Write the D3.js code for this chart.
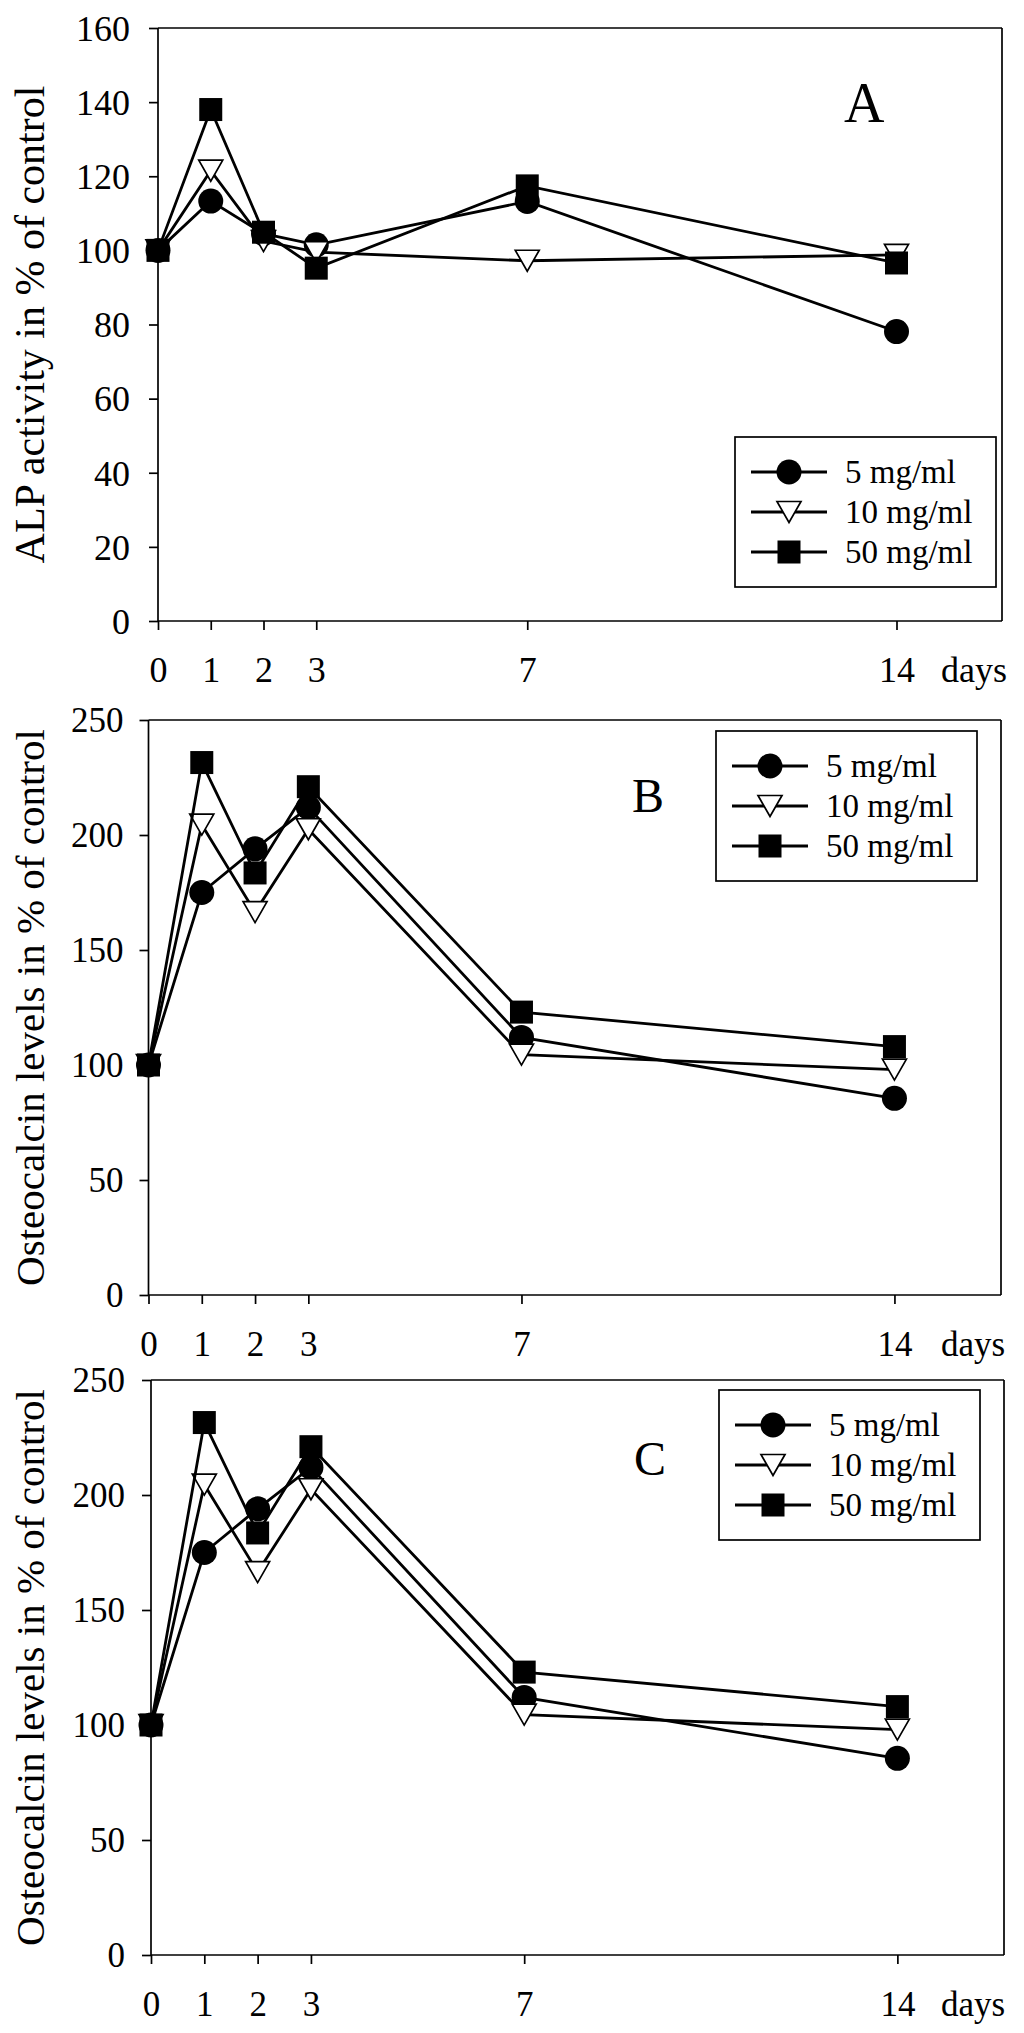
<!DOCTYPE html>
<html>
<head>
<meta charset="utf-8">
<script src="https://cdn.jsdelivr.net/npm/d3@7"></script>
<style>
  body { margin: 0; background: #fff; }
  svg text { font-family: "Liberation Serif", "Times New Roman", serif !important; fill: #000; }
</style>
</head>
<body>
<div id="chart"></div>
<script>
// data
var days = [0, 1, 2, 3, 7, 14];
var dayTicks = [0, 1, 2, 3, 7, 14];
var seriesNames = ["5 mg/ml", "10 mg/ml", "50 mg/ml"];

var alp5  = [100, 113.3, 104.5, 101.5, 113.2, 78.1];
var alp10 = [100, 121.5, 102.5, 99.5, 97.2, 98.8];
var alp50 = [100, 138, 104.9, 95.2, 117.4, 96.6];

var osc5  = [100, 175, 194, 212, 112, 85.5];
var osc10 = [100, 204.5, 166.5, 202.5, 104.5, 98];
var osc50 = [100, 231.5, 183.5, 221, 123, 108];

var alpTicks = [0, 20, 40, 60, 80, 100, 120, 140, 160];
var oscTicks = [0, 50, 100, 150, 200, 250];

// page
var width = 1024, height = 2033;
var serif = '"Liberation Serif", "Times New Roman", serif';
var svg = d3.select("#chart")
            .append("svg")
            .attr("width", width)
            .attr("height", height)
            .style("font-family", serif);

svg.append("rect").attr("width", width).attr("height", height).attr("fill", "#fff");

// one entry per panel (layout only)
var panels = [
  { letter: "A", title: "ALP activity in % of control", values: [alp5, alp10, alp50],
    yTicks: alpTicks, yMax: 160,
    left: 158, right: 1002, top: 28, bottom: 621, tickFont: 36, titleFont: 42, labelPad: 19,
    letterX: 844, letterY: 122, letterFont: 56,
    legX: 735, legY: 437 },
  { letter: "B", title: "Osteocalcin levels in % of control", values: [osc5, osc10, osc50],
    yTicks: oscTicks, yMax: 250,
    left: 148.5, right: 1001, top: 720, bottom: 1295, tickFont: 35, titleFont: 41, labelPad: 16,
    letterX: 632, letterY: 812, letterFont: 48,
    legX: 716, legY: 731 },
  // panel C repeats the same osteocalcin values
  { letter: "C", title: "Osteocalcin levels in % of control", values: [osc5, osc10, osc50],
    yTicks: oscTicks, yMax: 250,
    left: 151, right: 1004, top: 1380, bottom: 1955, tickFont: 35, titleFont: 41, labelPad: 17,
    letterX: 634, letterY: 1475, letterFont: 48,
    legX: 719, legY: 1390 }
];

var lineW = 2.8;
var axisW = 1.7;

// marker drawing: 0 circle, 1 open down triangle, 2 square
function drawMarker(g, type, x, y) {
  if (type === 0) {
    g.append("circle").attr("cx", x).attr("cy", y).attr("r", 12.5).attr("fill", "#000");
  } else if (type === 1) {
    var w = 24, h = 21;
    g.append("path")
     .attr("d", "M" + (x - w/2) + "," + (y - h/2) + "L" + (x + w/2) + "," + (y - h/2) + "L" + x + "," + (y + h/2) + "Z")
     .attr("fill", "#fff").attr("stroke", "#000").attr("stroke-width", 1.7);
  } else {
    g.append("rect").attr("x", x - 11.5).attr("y", y - 11.5).attr("width", 23).attr("height", 23).attr("fill", "#000");
  }
}

panels.forEach(function(p) {
  var g = svg.append("g");

  var x = d3.scaleLinear().domain([0, 16]).range([p.left, p.right]);
  var y = d3.scaleLinear().domain([0, p.yMax]).range([p.bottom, p.top]);

  // frame (top and right)
  g.append("line").attr("x1", p.left).attr("x2", p.right).attr("y1", p.top).attr("y2", p.top)
   .attr("stroke", "#000").attr("stroke-width", axisW);
  g.append("line").attr("x1", p.right).attr("x2", p.right).attr("y1", p.top).attr("y2", p.bottom)
   .attr("stroke", "#000").attr("stroke-width", axisW);

  // y axis
  var yAxis = g.append("g")
     .attr("transform", "translate(" + p.left + ",0)")
     .call(d3.axisLeft(y).tickValues(p.yTicks).tickSize(9).tickPadding(p.labelPad).tickFormat(d3.format("d")));
  yAxis.attr("font-family", null).attr("font-size", null);
  yAxis.select(".domain").attr("stroke", "#000").attr("stroke-width", axisW).attr("d", "M0," + p.top + "V" + p.bottom);
  yAxis.selectAll(".tick line").attr("stroke", "#000").attr("stroke-width", axisW);
  yAxis.selectAll("text").style("font-family", serif).style("font-size", p.tickFont + "px").attr("dy", "0.34em");

  // x axis
  var xAxis = g.append("g")
     .attr("transform", "translate(0," + p.bottom + ")")
     .call(d3.axisBottom(x).tickValues(dayTicks).tickSize(9).tickFormat(d3.format("d")));
  xAxis.attr("font-family", null).attr("font-size", null);
  xAxis.select(".domain").attr("stroke", "#000").attr("stroke-width", axisW).attr("d", "M" + p.left + ",0H" + p.right);
  xAxis.selectAll(".tick line").attr("stroke", "#000").attr("stroke-width", axisW);
  xAxis.selectAll("text").style("font-family", serif).style("font-size", p.tickFont + "px")
       .attr("y", 61).attr("dy", null);

  g.append("text")
   .attr("x", 941).attr("y", p.bottom + 61)
   .style("font-family", serif).style("font-size", p.tickFont + "px")
   .text("days");

  // y title
  g.append("text")
   .attr("transform", "translate(44," + ((p.top + p.bottom) / 2) + ") rotate(-90)")
   .attr("text-anchor", "middle")
   .style("font-family", serif).style("font-size", p.titleFont + "px")
   .text(p.title);

  // panel letter
  g.append("text")
   .attr("x", p.letterX).attr("y", p.letterY)
   .style("font-family", serif).style("font-size", p.letterFont + "px")
   .text(p.letter);

  // series: line then markers
  p.values.forEach(function(vals, s) {
    var pts = days.map(function(d, i) { return [x(d), y(vals[i])]; });
    g.append("path")
     .attr("d", d3.line()(pts))
     .attr("fill", "none").attr("stroke", "#000").attr("stroke-width", lineW);
    pts.forEach(function(pt) { drawMarker(g, s, pt[0], pt[1]); });
  });

  // legend
  var lg = g.append("g");
  lg.append("rect")
    .attr("x", p.legX).attr("y", p.legY).attr("width", 261).attr("height", 150)
    .attr("fill", "#fff").attr("stroke", "#000").attr("stroke-width", axisW);
  seriesNames.forEach(function(name, s) {
    var ry = p.legY + 35 + s * 40;
    lg.append("line").attr("x1", p.legX + 16).attr("x2", p.legX + 92).attr("y1", ry).attr("y2", ry)
      .attr("stroke", "#000").attr("stroke-width", lineW);
    drawMarker(lg, s, p.legX + 54, ry);
    lg.append("text").attr("x", p.legX + 110).attr("y", ry + 11)
      .style("font-family", serif).style("font-size", "33px").text(name);
  });
});
</script>
</body>
</html>
